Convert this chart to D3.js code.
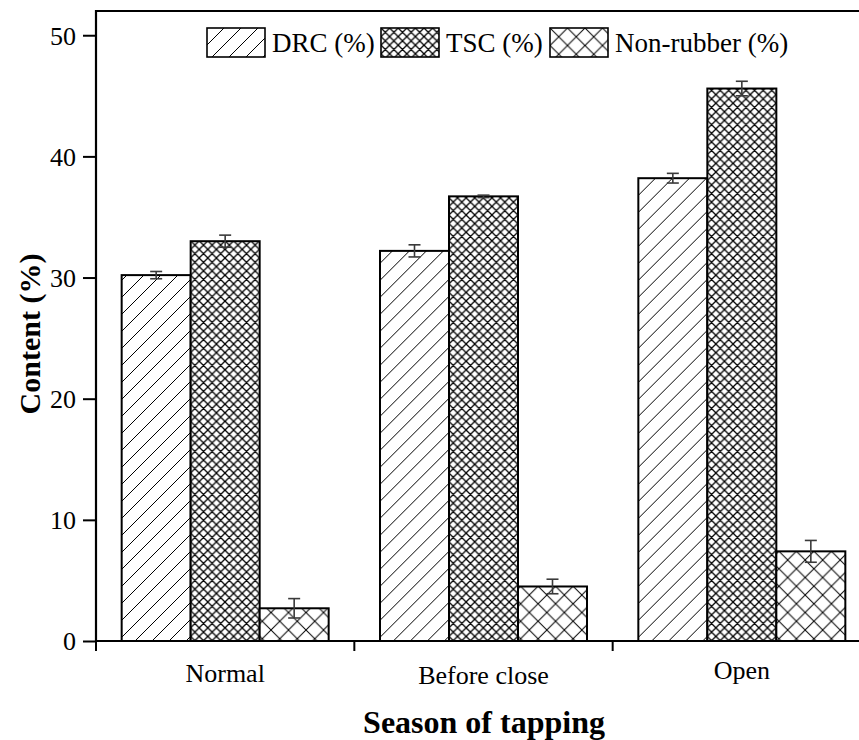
<!DOCTYPE html>
<html>
<head>
<meta charset="utf-8">
<script src="https://cdn.jsdelivr.net/npm/d3@7"></script>
<style>
  html, body { margin: 0; padding: 0; background: #fff; }
  svg { display: block; }
  text { font-family: "Liberation Serif", "Times New Roman", serif; fill: #000; }
</style>
</head>
<body>
<svg id="chart" width="859" height="740"></svg>
<script>
// Latex composition by tapping season
const seasons = ["Normal", "Before close", "Open"];
const seriesNames = ["DRC (%)", "TSC (%)", "Non-rubber (%)"];
const drcValues = [30.2, 32.2, 38.2];
const drcErrors = [0.3, 0.5, 0.4];
const tscValues = [33.0, 36.7, 45.6];
const tscErrors = [0.5, 0.1, 0.6];
const nonRubberValues = [2.7, 4.5, 7.4];
const nonRubberErrors = [0.8, 0.6, 0.9];
const yTicks = [0, 10, 20, 30, 40, 50];

const seriesValues = [drcValues, tscValues, nonRubberValues];
const seriesErrors = [drcErrors, tscErrors, nonRubberErrors];
const patternIds = ["hatch-drc", "hatch-tsc", "hatch-nr"];

const svg = d3.select("#chart");
const margin = { left: 96, top: 11, bottom: 641 };
const plotRight = 871; // frame continues past the visible edge

// ---- fill patterns ----
const defs = svg.append("defs");
function diagPattern(id, size, both, width) {
  const p = defs.append("pattern")
    .attr("id", id)
    .attr("patternUnits", "userSpaceOnUse")
    .attr("width", size).attr("height", size);
  p.append("rect").attr("width", size).attr("height", size).attr("fill", "#fff");
  const s = size;
  let d = `M0,${s} L${s},0 M${-s/2},${s/2} L${s/2},${-s/2} M${s/2},${s*1.5} L${s*1.5},${s/2}`;
  if (both) d += ` M0,0 L${s},${s} M${-s/2},${s/2} L${s/2},${s*1.5} M${s/2},${-s/2} L${s*1.5},${s/2}`;
  p.append("path").attr("d", d).attr("stroke", "#000")
    .attr("stroke-width", width).attr("fill", "none");
}
diagPattern("hatch-drc", 17, false, 1);
diagPattern("hatch-tsc", 8.6, true, 1.3);
diagPattern("hatch-nr", 17.5, true, 1);

// ---- scales ----
const x = d3.scaleBand().domain(seasons).range([margin.left, plotRight]).padding(0);
const xInner = d3.scaleBand().domain(d3.range(seriesNames.length))
  .range([0, x.bandwidth()]).paddingInner(0).paddingOuter(0.372);
const y = d3.scaleLinear().domain([0, 52]).range([margin.bottom, margin.top]);

// ---- bars ----
const groups = svg.append("g").selectAll("g")
  .data(seasons)
  .join("g")
  .attr("transform", d => `translate(${x(d)},0)`);

groups.each(function (season, si) {
  const g = d3.select(this);
  seriesNames.forEach((name, k) => {
    const v = seriesValues[k][si];
    const bx = xInner(k);
    const bw = xInner.bandwidth();
    g.append("rect")
      .attr("x", bx).attr("y", y(v))
      .attr("width", bw).attr("height", y(0) - y(v))
      .attr("fill", `url(#${patternIds[k]})`)
      .attr("stroke", "#000").attr("stroke-width", 2);
  });
});

// ---- error bars ----
groups.each(function (season, si) {
  const g = d3.select(this);
  seriesNames.forEach((name, k) => {
    const v = seriesValues[k][si];
    const e = seriesErrors[k][si];
    const cx = xInner(k) + xInner.bandwidth() / 2;
    const eg = g.append("g").attr("stroke", "#3a3a3a").attr("stroke-width", 1.6);
    eg.append("line").attr("x1", cx).attr("x2", cx).attr("y1", y(v + e)).attr("y2", y(v - e));
    [v + e, v - e].forEach(t => {
      eg.append("line").attr("x1", cx - 6).attr("x2", cx + 6).attr("y1", y(t)).attr("y2", y(t));
    });
  });
});

// ---- axes ----
const yAxis = d3.axisLeft(y).tickValues(yTicks).tickSize(13).tickPadding(7).tickFormat(d3.format("d"));
const yg = svg.append("g").attr("transform", `translate(${margin.left},0)`).call(yAxis);
yg.attr("font-family", null).attr("font-size", null);
yg.select(".domain").remove();
yg.selectAll(".tick line").attr("stroke", "#000").attr("stroke-width", 2);
yg.selectAll(".tick text").attr("font-size", 26).attr("dy", "0.34em");

const xAxis = d3.axisBottom(x).tickSize(0).tickPadding(0);
const xg = svg.append("g").attr("transform", `translate(0,${margin.bottom})`).call(xAxis);
xg.select(".domain").remove();
xg.selectAll(".tick text").remove();

// category boundary ticks
const boundaries = seasons.map(s => x(s)).concat([x(seasons[seasons.length - 1]) + x.bandwidth()]);
svg.append("g").selectAll("line").data(boundaries).join("line")
  .attr("x1", d => d).attr("x2", d => d)
  .attr("y1", margin.bottom).attr("y2", margin.bottom + 10)
  .attr("stroke", "#000").attr("stroke-width", 2);

// category labels
const labelNudge = [0, 2, -3];
svg.append("g").selectAll("text").data(seasons).join("text")
  .attr("x", d => x(d) + x.bandwidth() / 2)
  .attr("y", (d, i) => margin.bottom + 41 + labelNudge[i])
  .attr("text-anchor", "middle")
  .attr("font-size", 26)
  .text(d => d);

// frame lines: left, bottom, top
svg.append("path")
  .attr("d", `M${plotRight},${margin.top} L${margin.left},${margin.top} L${margin.left},${margin.bottom} L${plotRight},${margin.bottom}`)
  .attr("fill", "none").attr("stroke", "#000").attr("stroke-width", 2.2);

// ---- axis titles ----
svg.append("text")
  .attr("transform", `translate(40,334) rotate(-90)`)
  .attr("text-anchor", "middle")
  .attr("font-weight", "bold")
  .attr("font-size", 30)
  .text("Content (%)");

svg.append("text")
  .attr("x", 484).attr("y", 733)
  .attr("text-anchor", "middle")
  .attr("font-weight", "bold")
  .attr("font-size", 32)
  .text("Season of tapping");

// ---- legend ----
const legendX = [207, 381, 550];
const legend = svg.append("g").selectAll("g").data(seriesNames).join("g")
  .attr("transform", (d, i) => `translate(${legendX[i]},28)`);
legend.append("rect")
  .attr("width", 58).attr("height", 29)
  .attr("fill", (d, i) => `url(#${patternIds[i]})`)
  .attr("stroke", "#000").attr("stroke-width", 1.6);
legend.append("text")
  .attr("x", 65).attr("y", 24)
  .attr("font-size", 27)
  .text(d => d);
</script>
</body>
</html>
